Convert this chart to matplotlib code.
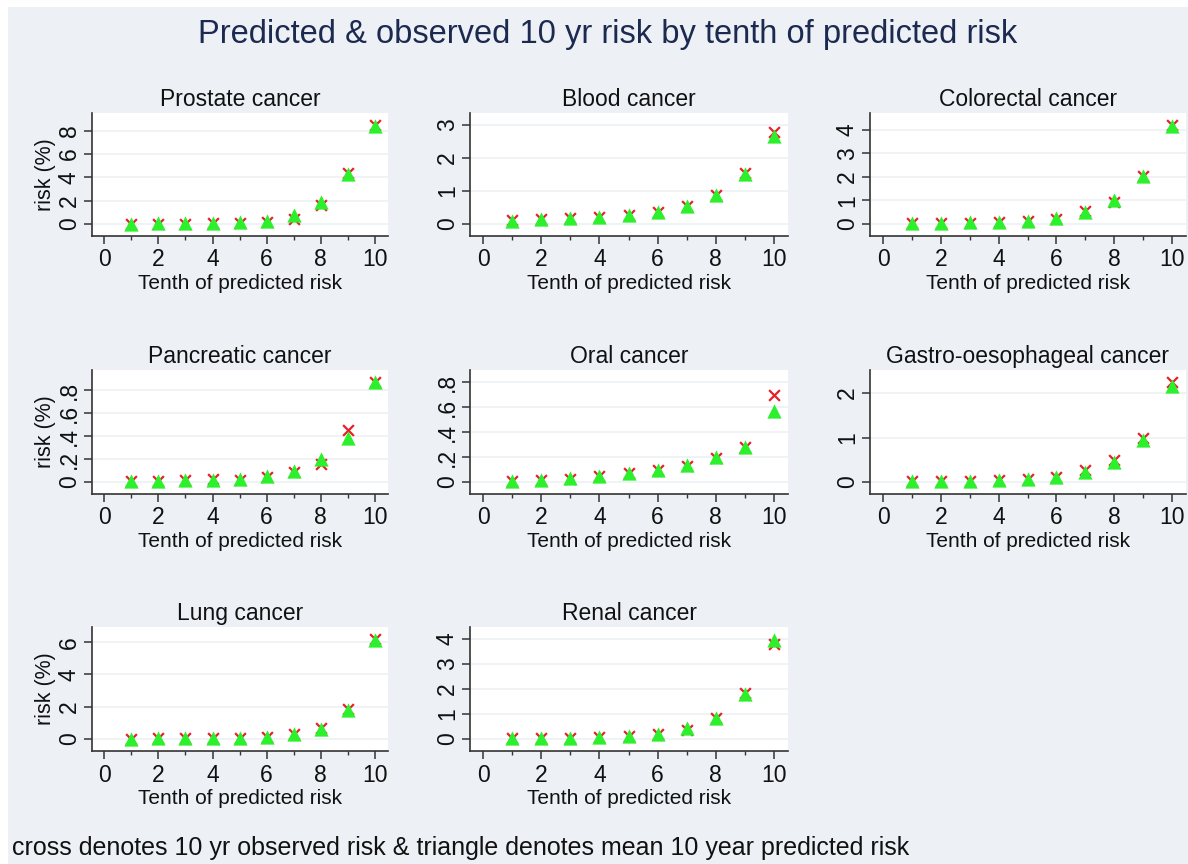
import matplotlib.pyplot as plt
from matplotlib.patches import Rectangle
from matplotlib.ticker import FixedLocator, MultipleLocator

plt.rcParams['font.family'] = ['Liberation Sans', 'DejaVu Sans']

# tenths of predicted risk
tenth = [1, 2, 3, 4, 5, 6, 7, 8, 9, 10]

# observed (cross) and mean predicted (triangle) 10 yr risk, %
prostate_obs = [0.05, 0.05, 0.05, 0.08, 0.1, 0.2, 0.45, 1.6, 4.4, 8.5]
prostate_pred = [0.05, 0.08, 0.1, 0.12, 0.15, 0.3, 0.8, 1.9, 4.3, 8.4]
blood_obs = [0.12, 0.15, 0.18, 0.22, 0.28, 0.38, 0.55, 0.88, 1.55, 2.78]
blood_pred = [0.1, 0.14, 0.17, 0.21, 0.27, 0.37, 0.55, 0.87, 1.52, 2.67]
colorectal_obs = [0.03, 0.04, 0.06, 0.1, 0.15, 0.22, 0.55, 0.95, 2.05, 4.2]
colorectal_pred = [0.03, 0.05, 0.07, 0.1, 0.15, 0.25, 0.52, 1.0, 2.02, 4.15]
pancreatic_obs = [0.005, 0.01, 0.015, 0.025, 0.02, 0.04, 0.09, 0.16, 0.45, 0.87]
pancreatic_pred = [0.005, 0.01, 0.015, 0.02, 0.03, 0.05, 0.1, 0.2, 0.38, 0.87]
oral_obs = [0.01, 0.02, 0.025, 0.045, 0.07, 0.1, 0.13, 0.19, 0.28, 0.70]
oral_pred = [0.01, 0.02, 0.03, 0.05, 0.07, 0.1, 0.14, 0.2, 0.28, 0.57]
gastro_obs = [0.02, 0.03, 0.03, 0.04, 0.06, 0.12, 0.27, 0.5, 0.98, 2.25]
gastro_pred = [0.02, 0.03, 0.03, 0.04, 0.06, 0.11, 0.23, 0.45, 0.95, 2.15]
lung_obs = [0.03, 0.04, 0.05, 0.06, 0.08, 0.12, 0.3, 0.7, 1.85, 6.2]
lung_pred = [0.03, 0.04, 0.05, 0.06, 0.08, 0.14, 0.28, 0.65, 1.8, 6.15]
renal_obs = [0.04, 0.05, 0.06, 0.09, 0.12, 0.22, 0.38, 0.85, 1.85, 3.8]
renal_pred = [0.04, 0.05, 0.06, 0.09, 0.13, 0.22, 0.43, 0.85, 1.8, 3.95]

titles = ['Prostate cancer', 'Blood cancer', 'Colorectal cancer',
          'Pancreatic cancer', 'Oral cancer', 'Gastro-oesophageal cancer',
          'Lung cancer', 'Renal cancer']
observed = [prostate_obs, blood_obs, colorectal_obs, pancreatic_obs,
            oral_obs, gastro_obs, lung_obs, renal_obs]
predicted = [prostate_pred, blood_pred, colorectal_pred, pancreatic_pred,
             oral_pred, gastro_pred, lung_pred, renal_pred]
yticks = [[0, 2, 4, 6, 8], [0, 1, 2, 3], [0, 1, 2, 3, 4],
          [0, 0.2, 0.4, 0.6, 0.8], [0, 0.2, 0.4, 0.6, 0.8], [0, 1, 2],
          [0, 2, 4, 6], [0, 1, 2, 3, 4]]

W, H = 1188, 864
bg = '#EDF1F6'
fig = plt.figure(figsize=(W / 100, H / 100), dpi=100, facecolor='white')
# thin white frame on top and left edges, as in the scanned figure
fig.patches.append(Rectangle((8 / W, 0), 1, 1 - 7 / H, transform=fig.transFigure,
                             facecolor=bg, edgecolor='none', zorder=-10))

cols = [(92, 388), (470, 788), (870, 1186)]
rows = [(113, 236), (370, 494), (627, 751)]


def stata_fmt(v):
    if v == int(v):
        return str(int(v))
    s = ('%g' % v)
    return s[1:] if s.startswith('0.') else s


for i, name in enumerate(titles):
    r, c = divmod(i, 3)
    x0, x1 = cols[c]
    top, bot = rows[r]
    ax = fig.add_axes([x0 / W, 1 - bot / H, (x1 - x0) / W, (bot - top) / H])
    ax.set_facecolor('white')

    ax.scatter(tenth, observed[i], marker='x', s=60, color='#E8202A',
               linewidths=1.6, zorder=3)
    ax.scatter(tenth, predicted[i], marker='^', s=105, color='#2CF02C',
               linewidths=0, zorder=4)

    yt = yticks[i]
    lo = 0
    hi = max(max(yt), max(observed[i]), max(predicted[i]))
    pad = 0.12 * (hi - lo)
    ax.set_ylim(lo - pad, hi + pad)
    ax.set_xlim(-0.45, 10.48)

    ax.yaxis.set_major_locator(FixedLocator(yt))
    ax.set_yticklabels([stata_fmt(v) for v in yt], rotation=90, va='center')
    ax.xaxis.set_major_locator(MultipleLocator(2))
    ax.xaxis.set_minor_locator(MultipleLocator(1))
    ax.tick_params(axis='both', which='major', labelsize=16.5, length=6,
                   width=1.1, color='#333333', labelcolor='#111111', pad=3)
    ax.tick_params(axis='y', which='major', pad=2)
    ax.tick_params(axis='x', which='minor', length=3, width=1.0, color='#333333')
    ax.grid(axis='y', color='#EEF2F5', linewidth=1.3)
    ax.set_axisbelow(True)

    for s in ['top', 'right']:
        ax.spines[s].set_visible(False)
    for s in ['left', 'bottom']:
        ax.spines[s].set_color('#333333')
        ax.spines[s].set_linewidth(1.2)

    ax.set_title(name, fontsize=16.5, color='#111111', pad=5)
    ax.set_xlabel('Tenth of predicted risk', fontsize=15, color='#111111', labelpad=2)
    if c == 0:
        ax.set_ylabel('risk (%)', fontsize=15.5, color='#111111', labelpad=1)

fig.text(608 / W, 1 - 35 / H, 'Predicted & observed 10 yr risk by tenth of predicted risk',
         ha='center', va='center', fontsize=23.5, color='#1C2A50')
fig.text(12 / W, 1 - 848 / H,
         'cross denotes 10 yr observed risk & triangle denotes mean 10 year predicted risk',
         ha='left', va='center', fontsize=18, color='#111111')

fig.savefig('out.png', dpi=100, facecolor='white')
